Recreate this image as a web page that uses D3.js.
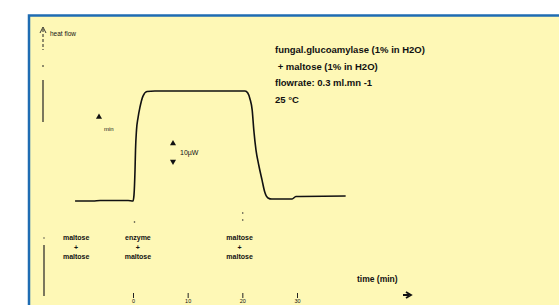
<!DOCTYPE html>
<html>
<head>
<meta charset="utf-8">
<script src="https://cdn.jsdelivr.net/npm/d3@7"></script>
<style>
  body { margin: 0; background: #fff; }
  svg { display: block; }
  text { font-family: "Liberation Sans", Arial, sans-serif; fill: #111; }
</style>
</head>
<body>
<div id="chart"></div>
<script>
// thermogram: time (min) vs heat flow (µW above baseline)
const timeMin  = [-10.6, -7.3, -6.0, -0.9, 0, 0.18, 0.37, 0.46, 0.64, 0.91, 1.28, 1.83, 2.56, 4.0, 20.5, 21.0, 21.4, 21.8, 22.1, 22.5, 23.0, 23.6, 24.1, 24.7, 25.4, 29.1, 29.8, 38.9];
const heatFlow = [0, 0, 0.3, 0.3, 0, 3.3, 17.2, 28.3, 39.4, 46.1, 52.2, 58.3, 60.8, 61.1, 61.1, 60, 56.7, 50.6, 39.4, 28.3, 20, 11.7, 5, 1.7, 1.1, 1.1, 2.5, 2.8];

const timeTicks = [0, 10, 20, 30];
const injectionTimes = [-10.4, 0.9, 19.5];
const injectionLabels = [["maltose", "+", "maltose"], ["enzyme", "+", "maltose"], ["maltose", "+", "maltose"]];
const infoLines = ["fungal.glucoamylase (1% in H2O)", " + maltose (1% in H2O)", "flowrate: 0.3 ml.mn -1", "25 °C"];

const width = 559, height = 305;

const svg = d3.select("#chart").append("svg")
    .attr("width", width)
    .attr("height", height);

// yellow panel with blue frame, runs off the right and bottom
svg.append("rect")
    .attr("x", 29).attr("y", 15.5)
    .attr("width", 560).attr("height", 320)
    .attr("fill", "#fef8b6")
    .attr("stroke", "#1f6cb2")
    .attr("stroke-width", 2.5);

let x = d3.scaleLinear().domain([0, 30]).range([133, 297]);
let y = d3.scaleLinear().domain([0, 60]).range([201, 93]);

let pts = timeMin.map((t, i) => [t, heatFlow[i]]);

let line = d3.line()
    .x(d => x(d[0]))
    .y(d => y(d[1]))
    .curve(d3.curveMonotoneX);

svg.append("path")
    .datum(pts)
    .attr("d", line)
    .attr("fill", "none")
    .attr("stroke", "#111")
    .attr("stroke-width", 1.6);

// heat flow arrow (dashed) at top left
let ax = 43;
svg.append("line")
    .attr("x1", ax).attr("x2", ax)
    .attr("y1", 29).attr("y2", 50)
    .attr("stroke", "#222").attr("stroke-width", 1)
    .attr("stroke-dasharray", "3,2");
svg.append("path")
    .attr("d", `M${ax - 3},${33} L${ax},${27} L${ax + 3},${33}`)
    .attr("fill", "none").attr("stroke", "#222").attr("stroke-width", 0.9);
svg.append("text")
    .attr("x", 50).attr("y", 36)
    .attr("font-size", 6.5)
    .text("heat flow");
svg.append("line")
    .attr("x1", ax).attr("x2", ax).attr("y1", 65).attr("y2", 67)
    .attr("stroke", "#222").attr("stroke-width", 1);
svg.append("line")
    .attr("x1", ax).attr("x2", ax).attr("y1", 80).attr("y2", 122)
    .attr("stroke", "#222").attr("stroke-width", 1.2);

// time scale marker
svg.append("path")
    .attr("d", d3.symbol(d3.symbolTriangle, 16)())
    .attr("transform", "translate(99,117)")
    .attr("fill", "#111");
svg.append("text")
    .attr("x", 104).attr("y", 131)
    .attr("font-size", 6)
    .text("min");

// 10 µW scale bar
let sx = 173;
svg.append("path")
    .attr("d", d3.symbol(d3.symbolTriangle, 16)())
    .attr("transform", `translate(${sx},${y(32)})`)
    .attr("fill", "#111");
svg.append("path")
    .attr("d", d3.symbol(d3.symbolTriangle, 16)())
    .attr("transform", `translate(${sx},${y(22)}) rotate(180)`)
    .attr("fill", "#111");
svg.append("text")
    .attr("x", 180).attr("y", y(27) + 3)
    .attr("font-size", 7)
    .text("10µW");

// experiment conditions
svg.append("g")
    .selectAll("text")
    .data(infoLines)
    .join("text")
    .attr("x", 275)
    .attr("y", (d, i) => 53 + i * 16.5)
    .attr("font-size", 9.5)
    .attr("font-weight", "bold")
    .attr("xml:space", "preserve")
    .text(d => d);

// injection markers and labels
svg.append("g")
    .selectAll("circle")
    .data([[0, 222], [19.8, 213], [19.8, 220]])
    .join("circle")
    .attr("cx", d => x(d[0]) + 1.5)
    .attr("cy", d => d[1])
    .attr("r", 0.8)
    .attr("fill", "#333");

let lab = svg.append("g")
    .selectAll("g")
    .data(injectionTimes)
    .join("g")
    .attr("transform", d => `translate(${x(d)},0)`);
lab.selectAll("text")
    .data((d, i) => injectionLabels[i])
    .join("text")
    .attr("text-anchor", "middle")
    .attr("y", (d, i) => 240 + i * 9.5)
    .attr("font-size", 7)
    .attr("font-weight", "bold")
    .text(d => d);

// left lower vertical line
svg.append("circle").attr("cx", 44).attr("cy", 238).attr("r", 0.7).attr("fill", "#333");
svg.append("line")
    .attr("x1", 44).attr("x2", 44).attr("y1", 245).attr("y2", 296)
    .attr("stroke", "#222").attr("stroke-width", 1.2);

// time axis, squeezed against the bottom edge
let axis = d3.axisBottom(x)
    .tickValues(timeTicks)
    .tickSize(5)
    .tickPadding(1)
    .tickFormat(d3.format("d"));
let gx = svg.append("g")
    .attr("transform", "translate(0,293)")
    .call(axis);
gx.select(".domain").remove();
gx.selectAll("line").attr("stroke", "#222").attr("stroke-width", 1);
gx.selectAll("text").attr("font-size", 5.5).attr("dy", "0.7em").attr("fill", "#222");

svg.append("text")
    .attr("x", 357).attr("y", 282)
    .attr("font-size", 8.5)
    .attr("font-weight", "bold")
    .text("time (min)");
svg.append("path")
    .attr("d", "M403,295 L409,295 M406,292 L411,295 L406,298")
    .attr("fill", "none").attr("stroke", "#111").attr("stroke-width", 1.8);
</script>
</body>
</html>
